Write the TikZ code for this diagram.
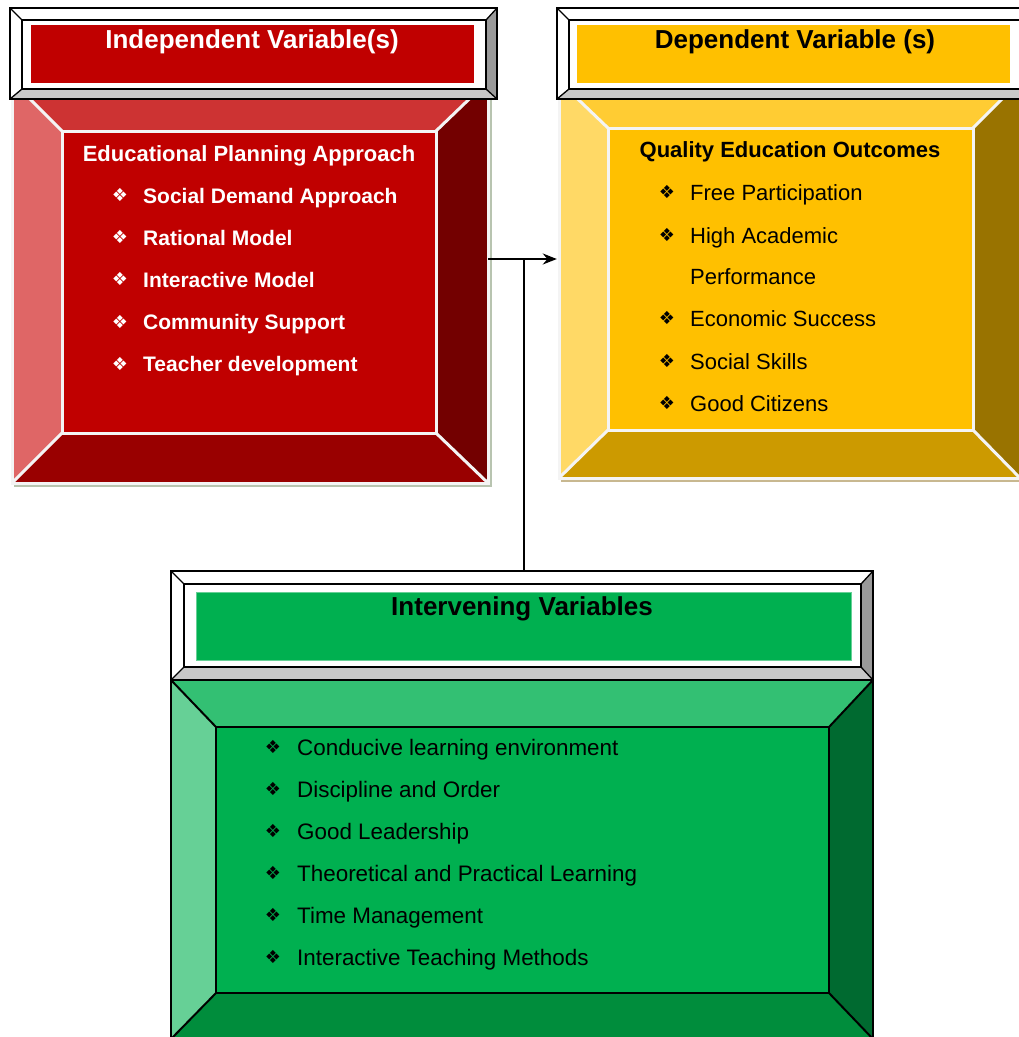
\documentclass[tikz,border=0pt]{standalone}
\usepackage{fontspec}
\setmainfont{Liberation Sans}
\newfontfamily\symfont{DejaVu Sans}
\usetikzlibrary{arrows.meta,fit}
\definecolor{rface}{HTML}{C00000}
\definecolor{rtop}{HTML}{CD3333}
\definecolor{rleft}{HTML}{DF6666}
\definecolor{rright}{HTML}{730000}
\definecolor{rbot}{HTML}{990000}
\definecolor{yface}{HTML}{FFC000}
\definecolor{ytop}{HTML}{FFCC33}
\definecolor{yleft}{HTML}{FFD966}
\definecolor{yright}{HTML}{997300}
\definecolor{ybot}{HTML}{CC9A00}
\definecolor{gface}{HTML}{00B050}
\definecolor{gtop}{HTML}{33C073}
\definecolor{gleft}{HTML}{66D096}
\definecolor{gright}{HTML}{006A30}
\definecolor{gbot}{HTML}{008D3C}
\definecolor{htop}{HTML}{FFFFFF}
\definecolor{hleft}{HTML}{FFFFFF}
\definecolor{hright}{HTML}{9A9A9A}
\definecolor{hbot}{HTML}{C8C8C8}
\definecolor{hface}{HTML}{FFFFFF}
\definecolor{bevline}{HTML}{F4F4F4}
\definecolor{rshadow}{HTML}{B8C4B0}
\definecolor{yshadow}{HTML}{C8B890}
\newcommand\bevelbox[3]{%
 \fill[#2top] (#1o1) -- (#1o2 |- #1o1) -- (#1i2 |- #1i1) -- (#1i1) -- cycle;
 \fill[#2left] (#1o1) -- (#1i1) -- (#1i1 |- #1i2) -- (#1o1 |- #1o2) -- cycle;
 \fill[#2right] (#1o2 |- #1o1) -- (#1o2) -- (#1i2) -- (#1i2 |- #1i1) -- cycle;
 \fill[#2bot] (#1o1 |- #1o2) -- (#1o2) -- (#1i2) -- (#1i1 |- #1i2) -- cycle;
 \fill[#2face] (#1i1) rectangle (#1i2);
 \draw[#3] (#1o1) -- (#1i1) (#1o2 |- #1o1) -- (#1i2 |- #1i1) (#1o2) -- (#1i2) (#1o1 |- #1o2) -- (#1i1 |- #1i2);
 \draw[#3] (#1i1) rectangle (#1i2);
 \draw[#3] (#1o1) rectangle (#1o2);
}
\tikzset{
 whiteline/.style={draw=bevline, line width=3pt},
 blackline/.style={draw=black, line width=2pt},
 hdrline/.style={draw=black, line width=1.3pt},
 hdr/.style={anchor=base, inner sep=0, font=\fontsize{26}{30}\selectfont\bfseries},
 sect/.style={anchor=base, inner sep=0, font=\fontsize{22}{26}\selectfont\bfseries},
 item/.style={anchor=base west, inner sep=0, font=\fontsize{22}{26}\selectfont},
 ritem/.style={anchor=base west, inner sep=0, font=\fontsize{21}{26}\selectfont\bfseries},
 gitem/.style={anchor=base west, inner sep=0, font=\fontsize{22.4}{26}\selectfont},
 bul/.style={anchor=base, inner sep=0, yshift=1.5pt, font=\symfont\fontsize{18}{20}\selectfont},
 conn/.style={draw=black, line width=1.8pt},
 fitbox/.style={inner sep=0}
}
\begin{document}
\begin{tikzpicture}[x=1pt,y=-1pt]
\useasboundingbox (0,0) rectangle (1019,1037);
\clip (0,0) rectangle (1019,1037);
% ---------- bodies ----------
\coordinate (rbo1) at (12,81);  \coordinate (rbo2) at (488,483);
\coordinate (rbi1) at (62,131); \coordinate (rbi2) at (436,433);
\draw[rshadow, line width=2pt] (14,486) -- (491,486) -- (491,99);
\bevelbox{rb}{r}{whiteline}
\node[fitbox, fit=(rbo1)(rbo2)] (indep) {};

\coordinate (ybo1) at (559,81);  \coordinate (ybo2) at (1020,478);
\coordinate (ybi1) at (608,128); \coordinate (ybi2) at (973,430);
\draw[yshadow, line width=2pt] (561,481) -- (1023,481);
\bevelbox{yb}{y}{whiteline}
\node[fitbox, fit=(ybo1)(ybo2)] (dep) {};

\coordinate (gbo1) at (171,680);  \coordinate (gbo2) at (873,1039);
\coordinate (gbi1) at (216,727);  \coordinate (gbi2) at (829,993);
\bevelbox{gb}{g}{blackline}
\node[fitbox, fit=(gbo1)(gbo2)] (interv) {};

% ---------- headers ----------
\coordinate (rho1) at (10,8);   \coordinate (rho2) at (497,99);
\coordinate (rhi1) at (22,20);  \coordinate (rhi2) at (486,89);
\bevelbox{rh}{h}{hdrline}
\node[fitbox, fit=(rho1)(rho2)] (indephead) {};
\node[fitbox, fill=rface, fit={(31,25)(474,83)}] (indepbar) {};

\coordinate (yho1) at (557,8);   \coordinate (yho2) at (1032,99);
\coordinate (yhi1) at (569,20);  \coordinate (yhi2) at (1021,89);
\bevelbox{yh}{h}{hdrline}
\node[fitbox, fit=(yho1)(yho2)] (dephead) {};
\node[fitbox, fill=yface, fit={(577,25)(1010,83)}] (depbar) {};

\coordinate (gho1) at (171,571);  \coordinate (gho2) at (873,680);
\coordinate (ghi1) at (184,584);  \coordinate (ghi2) at (861,667);
\bevelbox{gh}{h}{hdrline}
\node[fitbox, fit=(gho1)(gho2)] (intervhead) {};
\node[fitbox, fill=gface, draw=gleft, line width=1pt, fit={(196,592)(851,660)}] (intervbar) {};

% ---------- titles ----------
\node[hdr, text=white] (t1) at (252,48) {Independent Variable(s)};
\node[hdr, text=black] (t2) at (795,48) {Dependent Variable (s)};
\node[hdr, text=black] (t3) at (522,615) {Intervening Variables};

% ---------- red texts ----------
\node[sect, text=white] (rs) at (249,161) {Educational Planning Approach};
\foreach \t [count=\i] in {Social Demand Approach, Rational Model, Interactive Model, Community Support, Teacher development}{
  \pgfmathsetmacro\yy{203+42.2*(\i-1)}
  \node[bul, text=white] (rb\i) at (120,\yy) {❖};
  \node[ritem, text=white] (ri\i) at (143,\yy) {\t};
}
% ---------- yellow texts ----------
\node[sect, text=black] (ys) at (790,157) {Quality Education Outcomes};
\node[bul] (yb1) at (667,200) {❖};
\node[item] (yi1) at (690,200) {Free Participation};
\node[bul] (yb2) at (667,243) {❖};
\node[item] (yi2) at (690,243) {High Academic};
\node[item] (yi2b) at (690,284) {Performance};
\node[bul] (yb3) at (667,326) {❖};
\node[item] (yi3) at (690,326) {Economic Success};
\node[bul] (yb4) at (667,369) {❖};
\node[item] (yi4) at (690,369) {Social Skills};
\node[bul] (yb5) at (667,411) {❖};
\node[item] (yi5) at (690,411) {Good Citizens};
% ---------- green texts ----------
\foreach \t [count=\i] in {Conducive learning environment, Discipline and Order, Good Leadership, Theoretical and Practical Learning, Time Management, Interactive Teaching Methods}{
  \pgfmathsetmacro\yy{755+42*(\i-1)}
  \node[bul] (gbl\i) at (273,\yy) {❖};
  \node[gitem] (gi\i) at (297,\yy) {\t};
}
% ---------- connectors ----------
\coordinate (join) at (524,259);
\draw[conn, -{Stealth[length=14pt,width=11pt]}, shorten >=2pt] (indep.east |- join) -- (dep.west |- join);
\draw[conn] (join) -- (intervhead.north -| join);
\end{tikzpicture}
\end{document}
